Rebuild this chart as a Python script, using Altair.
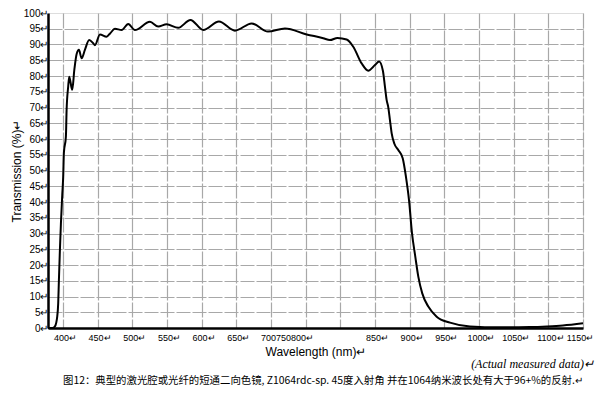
import altair as alt
import pandas as pd

wavelength = [378.5, 385, 388.5, 391.8, 393.2, 394.2, 395.7, 397.1, 399.0, 400.4, 401.4, 404.3, 405.3,
              407.6, 409.1, 413.4, 416.5, 419.8, 423.1, 427.0, 431.7, 437.9, 443.7, 446.2, 453.4, 463.0,
              468, 475.0, 484.7, 494.2, 503.8, 525.5, 537.4, 549.6, 566.3, 583.9, 602.4, 625.0, 648.1,
              672.2, 695.7, 720.2, 751.5, 775.4, 785.1, 795.9, 809.2, 818.7, 830.8, 840.3, 850.0, 856.0,
              861.5, 864.4, 866.8, 869.1, 871.6, 874.1, 878, 883.6, 890, 894.7, 899.1, 903.4, 908.2,
              912.5, 918.2, 926.9, 939, 958.2, 987, 1030, 1073, 1098, 1121, 1150]
transmission = [0, 0, 0.5, 3.6, 7.8, 15, 25, 33, 42, 48, 55.6, 60.7, 69,
                76.6, 79.8, 75.6, 82, 87, 88.3, 85.6, 88.3, 91.4, 90.4, 89.8, 93.2, 92.5,
                93.5, 95, 94.6, 96.5, 94.6, 97.2, 95.7, 96.4, 95.3, 97.8, 94.6, 97.3, 94.4,
                96.7, 94.1, 95.1, 93.2, 92.0, 91.4, 92.1, 91.6, 89.3, 84.0, 81.7, 83.5, 84.6,
                81.6, 76.6, 72.4, 70.2, 66.0, 61.8, 58.5, 56.5, 53.9, 48.0, 40.6, 30.1, 22.6,
                16.3, 11.0, 6.8, 3.6, 1.7, 0.5, 0.2, 0.3, 0.5, 0.8, 1.5]

x_ticks = list(range(400, 1151, 50))
y_ticks = list(range(0, 101, 5))

x_title = "Wavelength (nm)↵"
y_title = "Transmission (%)↵"
note = "(Actual measured data)↵"
caption = "图12：典型的激光腔或光纤的短通二向色镜, Z1064rdc-sp. 45度入射角 并在1064纳米波长处有大于96+%的反射.↵"

df = pd.DataFrame({"wl": wavelength, "t": transmission})

W, H = 535, 315
FONT = "Liberation Sans"

line = alt.Chart(df).mark_line(color="black", strokeWidth=2, interpolate="monotone").encode(
    x=alt.X("wl:Q", scale=alt.Scale(domain=[378.5, 1150], nice=False, zero=False),
            axis=alt.Axis(values=x_ticks, title=x_title, grid=True, format="d",
                          gridColor="#a8a8a8", gridWidth=1.2, gridDash=[15, 2],
                          domainColor="black", domainWidth=2.5, ticks=False, tickSize=0,
                          labelFont=FONT, labelFontSize=9, labelColor="black", labelPadding=5,
                          labelExpr="datum.value == 700 ? '700750800↵' : (datum.value == 750 || datum.value == 800) ? '' : datum.label + '↵'",
                          labelOffset={"condition": [{"test": "datum.value == 700", "value": 16},
                                                     {"test": "datum.value == 1150", "value": -3}],
                                       "value": 2},
                          titleFont=FONT, titleFontSize=12, titleFontWeight="normal", titleColor="black",
                          titlePadding=4, labelOverlap=False, labelFlush=False)),
    y=alt.Y("t:Q", scale=alt.Scale(domain=[0, 100], nice=False),
            axis=alt.Axis(values=y_ticks, title=y_title, grid=True, format="d",
                          gridColor={"condition": {"test": "datum.value == 100", "value": "transparent"}, "value": "#a8a8a8"},
                          gridWidth=1.2, gridDash=[14, 2],
                          domainColor="black", domainWidth=2.5, ticks=False, tickSize=0,
                          labelFont=FONT, labelFontSize=10, labelColor="black", labelPadding=0,
                          labelExpr="datum.label + '↵'", labelOverlap=False,
                          titleFont=FONT, titleFontSize=12, titleFontWeight="normal", titleColor="black",
                          titleX=-28, titleY=H / 2, titleAngle=270, titleBaseline="alphabetic",
                          titleAlign="center")),
)

note_text = alt.Chart(pd.DataFrame({"s": [note]})).mark_text(
    align="right", baseline="middle", font="Liberation Serif", fontStyle="italic", fontSize=12, color="black"
).encode(text="s:N", x=alt.value(546), y=alt.value(351))

cap_text = alt.Chart(pd.DataFrame({"s": [caption]})).mark_text(
    align="left", baseline="middle", font="Noto Sans CJK SC", fontSize=10.4, color="black"
).encode(text="s:N", x=alt.value(15), y=alt.value(368))

chart = alt.layer(line, note_text, cap_text).properties(
    width=W, height=H,
    autosize=alt.AutoSizeParams(type="none"),
    padding={"left": 40, "top": 5, "right": 12, "bottom": 58},
).configure_view(stroke=None).configure(background="white")

chart.save("out.html", embed_options={"renderer": "svg", "actions": False})
